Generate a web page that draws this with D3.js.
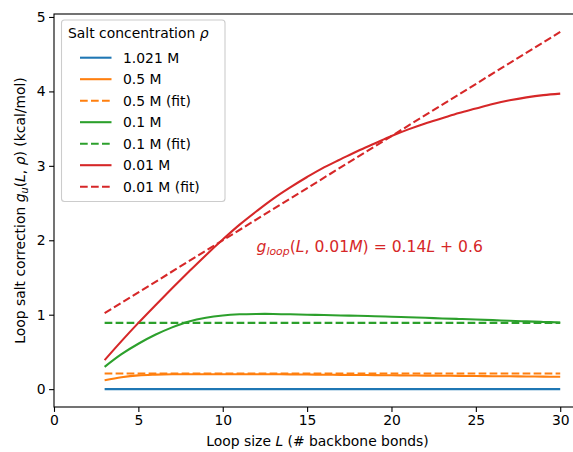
<!DOCTYPE html>
<html><head><meta charset="utf-8">
<script src="https://cdn.jsdelivr.net/npm/d3@7"></script>
<style>body{margin:0;background:#fff}svg{display:block;font-family:"DejaVu Sans",sans-serif}</style>
</head><body><svg id="c" width="573" height="452"></svg>
<script>
const L = [3,4,5,6,7,8,9,10,11,12,13,14,15,16,17,18,19,20,21,22,23,24,25,26,27,28,29,30];
const g1021 = [0,0,0,0,0,0,0,0,0,0,0,0,0,0,0,0,0,0,0,0,0,0,0,0,0,0,0,0];
const g05 = [0.12,0.16,0.185,0.195,0.2,0.2,0.2,0.2,0.2,0.2,0.2,0.198,0.196,0.194,0.192,0.19,0.188,0.186,0.184,0.182,0.18,0.178,0.176,0.174,0.172,0.17,0.168,0.166];
const g01 = [0.30,0.47,0.61,0.73,0.83,0.91,0.96,0.99,1.005,1.01,1.01,1.005,1.0,0.995,0.99,0.985,0.98,0.972,0.965,0.958,0.95,0.943,0.935,0.927,0.918,0.91,0.903,0.895];
const g001 = [0.39,0.645,0.89,1.125,1.355,1.58,1.80,2.01,2.21,2.39,2.56,2.71,2.85,2.98,3.09,3.20,3.30,3.40,3.49,3.57,3.64,3.71,3.77,3.83,3.88,3.92,3.95,3.97];
const fitL = [3,30];
const fit05 = [0.21,0.21];
const fit01 = [0.89,0.89];
const fit001 = [1.02,4.80];
const xTicks = [0,5,10,15,20,25,30];
const yTicks = [0,1,2,3,4,5];

const C = {blue:"#1f77b4",orange:"#ff7f0e",green:"#2ca02c",red:"#d62728"};
const series = [
  {label:"1.021 M", xs:L, ys:g1021, color:C.blue, dash:false},
  {label:"0.5 M", xs:L, ys:g05, color:C.orange, dash:false},
  {label:"0.5 M (fit)", xs:fitL, ys:fit05, color:C.orange, dash:true},
  {label:"0.1 M", xs:L, ys:g01, color:C.green, dash:false},
  {label:"0.1 M (fit)", xs:fitL, ys:fit01, color:C.green, dash:true},
  {label:"0.01 M", xs:L, ys:g001, color:C.red, dash:false},
  {label:"0.01 M (fit)", xs:fitL, ys:fit001, color:C.red, dash:true}
];

const svg = d3.select("#c");
const mL=54, mR=583, mT=14, mB=407;
const x = d3.scaleLinear().domain([0,31.35]).range([mL,mR]);
const y = d3.scaleLinear().domain([-0.24,5.04]).range([mB,mT]);
const fs = 13.9;
const dashArr = "7.7,3.3";

const line = d3.line().curve(d3.curveCatmullRom.alpha(0.5));
series.forEach(s=>{
  svg.append("path")
    .attr("d", line(s.xs.map((v,i)=>[x(v), y(s.ys[i])])))
    .attr("fill","none").attr("stroke",s.color).attr("stroke-width",2.08)
    .attr("stroke-dasharray", s.dash?dashArr:null);
});

// axes
const gx = svg.append("g").attr("transform",`translate(0,${mB})`)
  .call(d3.axisBottom(x).tickValues(xTicks).tickFormat(d3.format("d")).tickSize(4.9).tickPadding(3.5).tickSizeOuter(0));
const gy = svg.append("g").attr("transform",`translate(${mL},0)`)
  .call(d3.axisLeft(y).tickValues(yTicks).tickFormat(d3.format("d")).tickSize(4.9).tickPadding(3.5).tickSizeOuter(0));
[gx,gy].forEach(g=>{
  g.select(".domain").remove();
  g.selectAll("line").attr("stroke","#000").attr("stroke-width",1.1);
  g.selectAll("text").attr("font-size",fs).attr("font-family","DejaVu Sans").attr("fill","#000");
});
// spines
svg.append("rect").attr("x",mL).attr("y",mT).attr("width",mR-mL).attr("height",mB-mT)
  .attr("fill","none").attr("stroke","#000").attr("stroke-width",1.1);

// x label
const xl = svg.append("text").attr("x",(mL+mR)/2-1).attr("y",446).attr("text-anchor","middle").attr("font-size",fs);
xl.append("tspan").text("Loop size ");
xl.append("tspan").attr("font-style","italic").text("L");
xl.append("tspan").text(" (# backbone bonds)");

// y label
const yl = svg.append("text").attr("transform",`translate(25,${(mT+mB)/2}) rotate(-90)`)
  .attr("text-anchor","middle").attr("font-size",fs);
yl.append("tspan").text("Loop salt correction ");
yl.append("tspan").attr("font-style","italic").text("g");
yl.append("tspan").attr("font-style","italic").attr("font-size",fs*0.7).attr("dy",2.5).text("u");
yl.append("tspan").attr("dy",-2.5).text("(");
yl.append("tspan").attr("font-style","italic").text("L");
yl.append("tspan").text(", ");
yl.append("tspan").attr("font-style","italic").text("ρ");
yl.append("tspan").text(") (kcal/mol)");

// annotation
const afs = 15.6;
const an = svg.append("text").attr("x",x(12)).attr("y",y(1.84)).attr("font-size",afs).attr("fill",C.red);
an.append("tspan").attr("font-style","italic").text("g");
an.append("tspan").attr("font-style","italic").attr("font-size",afs*0.7).attr("dy",3).text("loop");
an.append("tspan").attr("dy",-3).text("(");
an.append("tspan").attr("font-style","italic").text("L");
an.append("tspan").text(", 0.01");
an.append("tspan").attr("font-style","italic").text("M");
an.append("tspan").text(") = 0.14");
an.append("tspan").attr("font-style","italic").text("L");
an.append("tspan").text(" + 0.6");

// legend
const lg = svg.append("g");
lg.append("rect").attr("x",61.5).attr("y",20).attr("width",163.5).attr("height",181.5).attr("rx",3)
  .attr("fill","#fff").attr("fill-opacity",0.8).attr("stroke","#cccccc").attr("stroke-width",1.1);
const lt = lg.append("text").attr("x",68).attr("y",38).attr("font-size",fs);
lt.append("tspan").text("Salt concentration ");
lt.append("tspan").attr("font-style","italic").text("ρ");
series.forEach((s,i)=>{
  const cy = 57.7 + i*21.5;
  lg.append("line").attr("x1",80).attr("x2",111.5).attr("y1",cy).attr("y2",cy)
    .attr("stroke",s.color).attr("stroke-width",2.08).attr("stroke-dasharray",s.dash?dashArr:null);
  lg.append("text").attr("x",123).attr("y",cy).attr("dy","0.36em").attr("font-size",fs).text(s.label);
});
</script></body></html>
